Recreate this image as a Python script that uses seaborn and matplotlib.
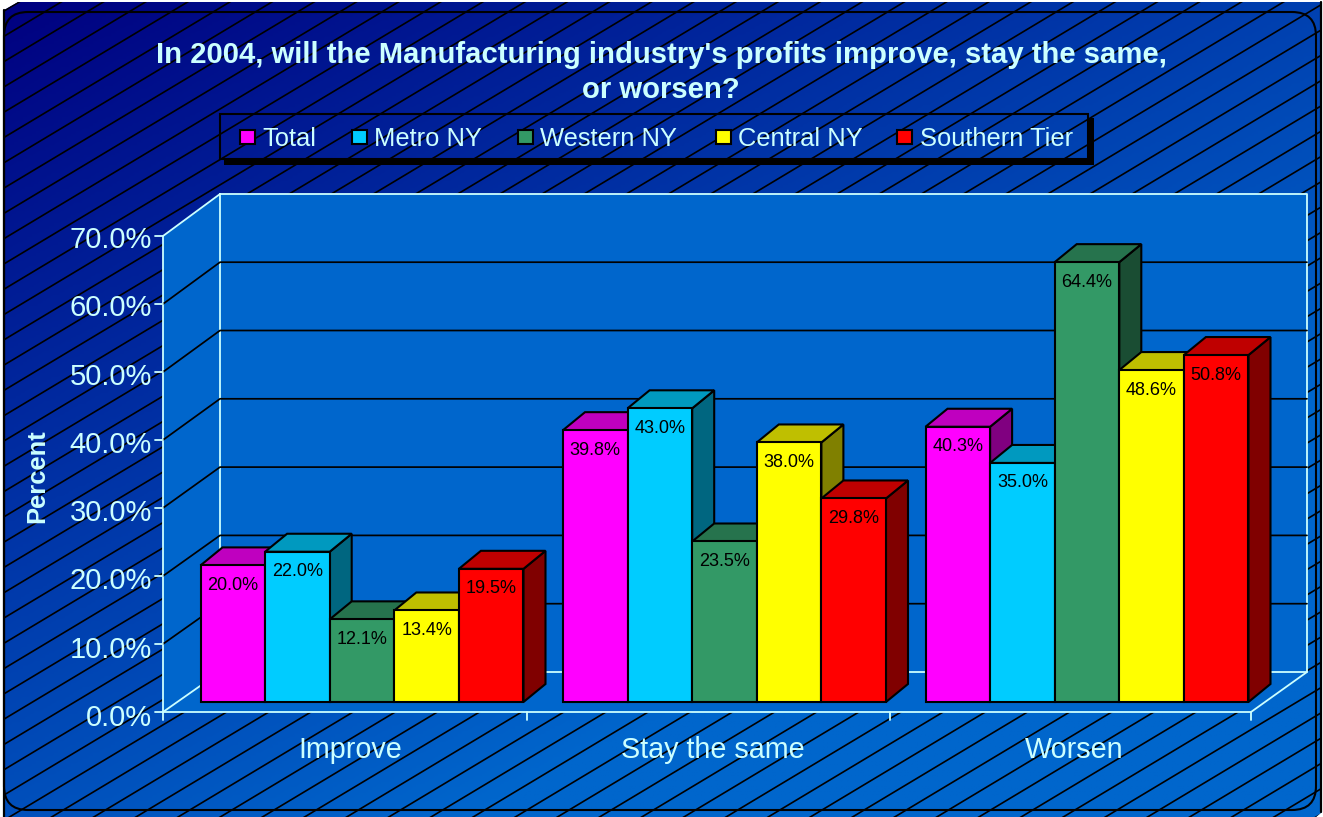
import numpy as np
import pandas as pd
import seaborn as sns
import matplotlib
matplotlib.use('Agg')
import matplotlib.pyplot as plt
from matplotlib.patches import Polygon, Rectangle, FancyBboxPatch
from matplotlib.colors import LinearSegmentedColormap, to_rgb

categories = ['Improve', 'Stay the same', 'Worsen']
regions = ['Total', 'Metro NY', 'Western NY', 'Central NY', 'Southern Tier']
total = [20.0, 39.8, 40.3]
metro_ny = [22.0, 43.0, 35.0]
western_ny = [12.1, 23.5, 64.4]
central_ny = [13.4, 38.0, 48.6]
southern_tier = [19.5, 29.8, 50.8]
y_ticks = [0, 10, 20, 30, 40, 50, 60, 70]
colors = ['#FF00FF', '#00CCFF', '#339966', '#FFFF00', '#FF0000']

W, H = 1323, 817
TXT = '#CCFFFF'
WALL = '#0066CC'

sns.set_theme(style='white')
plt.rcParams['font.family'] = ['Liberation Sans', 'DejaVu Sans']

df = pd.DataFrame({'category': categories, 'Total': total, 'Metro NY': metro_ny,
                   'Western NY': western_ny, 'Central NY': central_ny,
                   'Southern Tier': southern_tier})
df = df.melt(id_vars='category', var_name='region', value_name='percent')

fig = plt.figure(figsize=(W / 100, H / 100), dpi=100, facecolor='white')

# background layer in pixel coordinates
bg = fig.add_axes([0, 0, 1, 1], zorder=0)
bg.set_xlim(0, W)
bg.set_ylim(H, 0)
bg.axis('off')

cmap = LinearSegmentedColormap.from_list('bgfade', ['#000080', '#0066CC'])
xx, yy = np.meshgrid(np.linspace(0, 1, 300), np.linspace(0, 1, 300))
im = bg.imshow(np.clip(0.63 * xx + 0.78 * yy, 0, 1), cmap=cmap, extent=(3, 1322, 817, 2),
               aspect='auto', vmin=0, vmax=1, zorder=0)
clip = Polygon([(4, 10), (18, 2), (1322, 2), (1322, 812), (1316, 817), (4, 817)],
               transform=bg.transData, fc='none', ec='none')
bg.add_patch(clip)
im.set_clip_path(clip)
bg.set_xlim(0, W)
bg.set_ylim(H, 0)

# diagonal hatch
for k in range(-5, 90):
    xs = np.array([0, W])
    ln, = bg.plot(xs, 38.7 + k * 25.29 - 0.6 * xs, color='black', lw=1.2, zorder=1)
    ln.set_clip_path(clip)
bg.plot([4, 4], [10, 817], color='black', lw=1.6, zorder=2)
bg.plot([1321, 1321], [2, 812], color='black', lw=1.6, zorder=2)

frame = FancyBboxPatch((4, 12), 1312, 798, boxstyle='round,pad=0,rounding_size=24',
                       fc='none', ec='black', lw=1.5, zorder=2)
bg.add_patch(frame)

# walls and floor
wall_pts = [(163, 236), (220, 194), (1307, 194), (1307, 672), (1251, 712), (163, 712)]
bg.add_patch(Polygon(wall_pts, fc=WALL, ec='none', zorder=3))
bg.plot([220, 1307, 1307, 1251, 163, 163, 220, 220], [194, 194, 672, 712, 712, 236, 194, 672],
        color=TXT, lw=1.3, zorder=4)
bg.plot([163, 220, 1307], [712, 672, 672], color=TXT, lw=1.3, zorder=4)
for t in y_ticks[1:-1]:
    bg.plot([163, 220, 1307], [712 - t * 6.8, 672 - t * 6.83, 672 - t * 6.83], color='black',
            lw=1.25, zorder=4)
for t in y_ticks:
    yf = 712 - t * 6.8
    bg.plot([155, 163], [yf, yf], color=TXT, lw=1.3, zorder=4)
    bg.text(152, 718 - t * 6.83, f'{t:.1f}%', color=TXT, fontsize=21, ha='right', va='center', zorder=5)
for xt in [163, 527, 890, 1251]:
    bg.plot([xt, xt], [712, 720], color=TXT, lw=1.3, zorder=4)
for xc, name in zip([350, 713, 1074], categories):
    bg.text(xc, 750, name, color=TXT, fontsize=20.7, ha='center', va='center', zorder=5)

bg.text(37, 476, 'Percent', color=TXT, fontsize=18.4, fontweight='bold', rotation=90,
        ha='center', va='center', zorder=5)
bg.text(661, 55, "In 2004, will the Manufacturing industry's profits improve, stay the same,",
        color=TXT, fontsize=21.1, fontweight='bold', ha='center', va='center', zorder=5)
bg.text(661, 90, 'or worsen?', color=TXT, fontsize=21.1, fontweight='bold', ha='center',
        va='center', zorder=5)

# bars: full-figure axes, category 0 centred at px 362, 362.5 px per category, 6.83 px per percent
PX_X, PX_Y = 362.5, 6.83
ax = fig.add_axes([0, 0, 1, 1], zorder=1)
ax.patch.set_alpha(0)
sns.barplot(data=df, x='category', y='percent', hue='region', hue_order=regions,
            palette=colors, order=categories, width=0.891, gap=0, saturation=1,
            edgecolor='black', linewidth=1.5, ax=ax, zorder=6, legend=False)
ax.set_xlim(-362 / PX_X, (W - 362) / PX_X)
ax.set_ylim(-(H - 702) / PX_Y, 702 / PX_Y)
ax.axis('off')

dx, dy = 22 / PX_X, 18 / PX_Y
bars = [p for p in ax.patches if p.get_height() > 0]
# left to right, each bar's front covers the side of the one before it
for n, p in enumerate(sorted(bars, key=lambda b: b.get_x())):
    x0, w, h = p.get_x(), p.get_width(), p.get_height()
    base = np.array(to_rgb(p.get_facecolor()))
    z = 10 + n * 3
    top = [(x0, h), (x0 + dx, h + dy), (x0 + w + dx, h + dy), (x0 + w, h)]
    side = [(x0 + w, 0), (x0 + w + dx, dy), (x0 + w + dx, h + dy), (x0 + w, h)]
    ax.add_patch(Polygon(side, fc=base * 0.5, ec='black', lw=1.5, zorder=z))
    ax.add_patch(Polygon(top, fc=base * 0.75, ec='black', lw=1.5, zorder=z))
    p.set_zorder(z + 1)
    ax.text(x0 + w / 2, h - 20 / PX_Y, f'{h:.1f}%', color='black', fontsize=13, ha='center',
            va='center', zorder=100)

# legend
bg.add_patch(Rectangle((220, 114), 868, 45, fc='none', ec='black', lw=1.5, zorder=5))
bg.add_patch(Rectangle((224, 159), 870, 6, fc='black', ec='none', zorder=5))
bg.add_patch(Rectangle((1088, 118), 6, 47, fc='black', ec='none', zorder=5))
for xs, name, col in zip([240, 352, 518, 716, 897], regions, colors):
    bg.add_patch(Rectangle((xs, 129.5), 14.5, 14.5, fc=col, ec='black', lw=1.5, zorder=5))
    bg.text(xs + 22.5, 139, name, color=TXT, fontsize=18.4, ha='left', va='center', zorder=5)

fig.savefig('out.png', dpi=100)
